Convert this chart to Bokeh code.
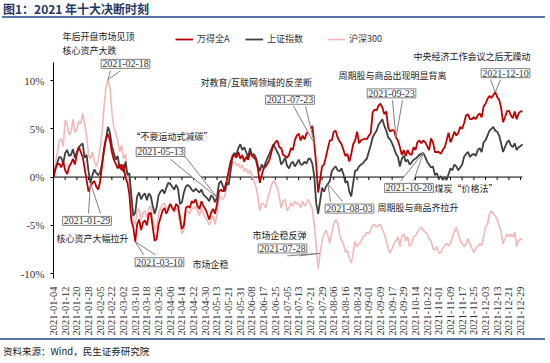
import math
import pandas as pd
from bokeh.plotting import figure
from bokeh.models import (Range1d, FixedTicker, PrintfTickFormatter, Label,
                          Legend, LegendItem, Div, ColumnDataSource)
from bokeh.layouts import column
from bokeh.embed import file_html
from bokeh.resources import INLINE

# ---------------- data ----------------
holidays = ["2021-01-01", "2021-02-11", "2021-02-12", "2021-02-15", "2021-02-16",
            "2021-02-17", "2021-04-05", "2021-05-03", "2021-05-04", "2021-05-05",
            "2021-06-14", "2021-09-20", "2021-09-21", "2021-10-01", "2021-10-04",
            "2021-10-05", "2021-10-06", "2021-10-07"]
dates = [d.strftime("%Y-%m-%d") for d in pd.bdate_range("2021-01-04", "2021-12-30")
         if d.strftime("%Y-%m-%d") not in holidays]

wind_a = [
    0.0, 0.9, 1.3, 1.4, 1.0, 1.6, 0.7, 0.3, 1.1, 1.4,
    1.9, 1.3, 2.4, 3.1, 2.6, 2.1, 0.9, -0.3, -1.5, -1.0,
    -0.6, -0.4, -1.0, -1.3, -0.4, 1.3, 3.0, 4.0, 4.5, 3.8,
    2.6, 1.8, 1.4, 0.9, 1.3, 0.7, 1.3, -0.1, -0.6, -1.8,
    -4.5, -5.2, -6.7, -4.9, -4.4, -5.5, -4.7, -4.5, -5.0, -3.8,
    -3.7, -5.2, -6.6, -6.4, -4.9, -4.2, -3.5, -3.2, -3.8, -3.3,
    -2.8, -3.2, -3.5, -2.8, -3.0, -4.2, -5.4, -5.0, -3.2, -3.0,
    -3.2, -2.5, -2.7, -2.3, -3.0, -3.3, -2.5, -3.0, -3.3, -3.8,
    -4.4, -3.7, -3.3, -3.8, -2.8, -1.5, -1.3, -1.5, -1.1, -0.4,
    0.6, 1.6, 2.1, 2.3, 2.0, 2.6, 1.9, 2.3, 1.6, 2.1,
    1.8, 2.6, 2.2, 2.0, 1.8, 0.9, -0.6, 0.2, 0.9, 1.1,
    1.4, 1.8, 2.6, 3.3, 3.6, 3.8, 3.1, 3.0, 2.3, 2.2,
    2.0, 2.3, 3.0, 2.8, 3.8, 4.3, 4.5, 3.8, 4.3, 3.9,
    4.5, 4.8, 5.0, 5.3, 3.5, 1.3, -1.6, -0.3, 1.1, 1.3,
    2.1, 3.0, 3.8, 3.8, 4.7, 4.8, 4.1, 3.7, 3.4, 2.8,
    2.2, 2.4, 1.6, 2.4, 3.4, 3.8, 4.7, 3.5, 3.8, 3.9,
    4.0, 3.9, 4.3, 4.5, 6.7, 7.0, 6.9, 7.4, 7.6, 7.2,
    6.5, 6.8, 5.1, 4.7, 4.9, 4.8, 4.1, 3.8, 3.1, 2.3,
    2.8, 2.2, 2.8, 2.4, 2.3, 3.1, 2.8, 3.6, 3.8, 3.5,
    3.8, 3.6, 3.2, 2.8, 4.0, 3.6, 2.6, 2.6, 2.6, 2.4,
    2.8, 3.1, 3.8, 4.6, 3.6, 4.1, 4.7, 4.3, 4.6, 5.2,
    5.0, 5.6, 6.4, 6.5, 6.0, 6.0, 6.2, 6.0, 6.4, 6.6,
    6.2, 7.3, 7.6, 8.1, 8.4, 8.2, 8.5, 8.8, 8.3, 8.0,
    7.2, 5.7, 6.2, 6.8, 6.9, 6.4, 6.1, 6.8, 6.0, 6.6,
    6.8, 6.8]

shanghai = [
    0.0, 0.8, 1.5, 2.1, 2.0, 1.4, 2.5, 2.8, 2.2, 2.3,
    2.9, 2.0, 2.6, 3.1, 3.3, 3.5, 2.0, 2.3, 0.6, -0.6,
    0.2, 0.8, 0.4, 0.2, 0.5, 1.5, 2.8, 4.0, 5.2, 4.6,
    3.2, 2.5, 1.8, 2.2, 0.9, 1.3, 0.5, 1.6, 0.2, 0.4,
    -1.9, -4.0, -3.7, -2.0, -1.6, -2.3, -1.9, -1.7, -2.4, -1.7,
    -2.0, -3.0, -3.8, -3.1, -1.9, -1.5, -1.3, -1.7, -1.1, -0.6,
    -0.7, -1.0, -1.3, -0.8, -1.2, -2.8, -2.6, -1.6, -1.0, -0.8,
    -1.0, -1.3, -1.5, -1.2, -1.4, -1.6, -1.3, -1.8, -2.0, -2.2,
    -2.5, -1.9, -2.1, -2.6, -2.1, -0.7, -0.4, -0.9, -1.5, -0.6,
    -0.8, 0.6, 2.2, 2.5, 2.3, 3.0, 3.4, 2.8, 3.1, 2.6,
    2.0, 3.0, 2.2, 2.4, 2.0, 1.2, 0.6, 1.3, 0.9, 1.5,
    2.0, 2.4, 2.9, 3.4, 3.0, 2.6, 2.2, 1.3, 1.6, 2.0,
    1.2, 0.9, 1.4, 1.6, 1.1, 1.4, 1.8, 1.3, 1.3, 1.6,
    1.4, 1.9, 1.9, 1.4, 0.1, -2.7, -3.8, -2.5, -1.1, -1.5,
    -1.0, -0.7, -0.4, 0.6, 0.9, 1.1, 0.7, 0.6, 0.9, 0.3,
    -0.6, -0.4, -1.5, -2.0, -0.6, 0.7, 0.7, 1.1, 1.3, 1.4,
    1.7, 1.9, 2.6, 3.3, 4.1, 4.5, 4.8, 5.4, 5.7, 6.0,
    5.3, 4.8, 4.1, 3.9, 3.5, 3.0, 2.4, 2.1, 1.1, 1.9,
    2.2, 1.6, 1.8, 1.3, 1.5, 1.8, 1.9, 2.1, 2.3, 2.4,
    2.5, 2.1, 1.6, 1.3, 1.0, 1.1, 0.2, 0.4, -0.2, 0.1,
    -0.3, 0.0, -0.3, 0.3, 0.9, 0.7, 1.3, 1.1, 0.7, 1.0,
    1.3, 2.1, 2.4, 2.6, 2.1, 2.3, 2.4, 2.2, 2.8, 3.0,
    2.6, 3.6, 3.8, 4.3, 4.8, 5.0, 5.2, 4.8, 4.7, 4.3,
    3.5, 2.6, 3.1, 3.6, 3.8, 3.3, 3.1, 3.5, 2.8, 3.1,
    3.2, 3.4]

hs300 = [
    0.0, 1.5, 2.5, 3.8, 4.0, 3.2, 5.9, 5.5, 4.4, 4.6,
    6.0, 4.6, 5.0, 5.8, 5.5, 6.6, 5.5, 4.3, 2.2, 1.9,
    2.6, 1.6, 1.1, 1.8, 3.0, 4.7, 7.4, 9.3, 10.1, 9.3,
    6.7, 5.2, 4.5, 3.8, 2.6, 3.3, 1.9, 2.4, 0.2, -0.6,
    -3.2, -4.5, -4.9, -3.5, -3.3, -4.4, -3.7, -3.5, -4.2, -3.2,
    -3.0, -4.4, -5.5, -5.2, -3.8, -3.3, -2.8, -2.7, -3.3, -3.0,
    -2.7, -3.2, -3.7, -3.2, -3.5, -4.9, -5.9, -5.5, -3.8, -3.5,
    -3.8, -3.2, -3.3, -3.0, -3.5, -4.0, -3.2, -3.8, -4.2, -4.5,
    -5.0, -4.4, -4.0, -4.9, -3.8, -2.1, -2.0, -2.3, -2.0, -1.1,
    -0.1, 0.9, 1.4, 1.6, 1.2, 1.4, 0.9, 1.3, 0.6, 0.9,
    0.4, 0.7, 0.1, -0.4, -1.0, -2.0, -3.5, -2.7, -2.8, -3.2,
    -2.3, -1.6, -0.8, -0.4, -0.6, -1.1, -2.0, -3.2, -2.5, -2.3,
    -3.5, -3.2, -2.7, -3.0, -2.5, -2.8, -2.7, -3.2, -2.5, -3.0,
    -2.7, -2.3, -2.8, -3.3, -4.9, -7.2, -9.5, -7.9, -6.6, -5.9,
    -5.5, -6.1, -6.9, -5.7, -4.9, -4.4, -4.8, -5.9, -6.6, -6.9,
    -7.8, -7.6, -8.4, -8.9, -7.9, -6.7, -7.2, -6.9, -6.7, -6.2,
    -6.1, -5.7, -5.9, -5.5, -5.0, -4.9, -5.2, -5.0, -4.9, -5.4,
    -5.9, -6.6, -7.4, -7.9, -7.4, -6.9, -6.6, -6.2, -7.2, -6.1,
    -5.9, -6.6, -6.2, -7.2, -6.9, -6.2, -6.1, -5.7, -5.4, -5.2,
    -5.5, -5.7, -5.9, -6.4, -6.6, -7.4, -7.6, -7.2, -7.9, -7.8,
    -7.4, -7.1, -6.9, -7.1, -6.9, -6.2, -5.7, -5.2, -5.9, -6.6,
    -6.9, -7.2, -6.9, -6.4, -6.9, -7.4, -7.8, -7.4, -7.2, -6.9,
    -7.1, -6.2, -5.2, -4.9, -3.8, -3.5, -3.8, -4.0, -4.4, -5.0,
    -5.7, -6.9, -6.4, -5.9, -6.2, -5.9, -6.2, -5.7, -7.2, -6.6,
    -6.4, -6.5]

series_names = ["万得全A", "上证指数", "沪深300"]
y_ticks = [-10, -5, 0, 5, 10]
tick_idx = list(range(0, len(dates), 6))

idx = list(range(len(dates)))
src = ColumnDataSource(dict(x=idx, wind_a=wind_a, shanghai=shanghai, hs300=hs300, date=dates))

# ---------------- geometry helpers (page px -> data) ----------------
X0_PX, PX_PER_DAY = 53.0, 469.0 / 241.0
Y0_PX, PX_PER_PCT = 179.0, 9.8
FIG_TOP = 20          # page y where the figure starts
FRAME_BOTTOM = 282    # page y of the frame bottom
FRAME_W = 479         # frame wide enough for the right-most notes


def dx(px):
    return (px - X0_PX) / PX_PER_DAY


def dy(py):
    return (Y0_PX - py) / PX_PER_PCT


RED, GRAY, PINK = "#C00000", "#404040", "#F2B8B8"
CJK = "Noto Sans CJK SC"
SERIF = "Liberation Serif"

p = figure(width=550, height=318, x_range=Range1d(0, FRAME_W / PX_PER_DAY),
           y_range=Range1d(dy(FRAME_BOTTOM), dy(FIG_TOP)),
           output_backend="svg", toolbar_location=None, title=None,
           min_border_left=53, min_border_right=550 - 53 - FRAME_W,
           min_border_top=0, min_border_bottom=56)
p.grid.visible = False
p.outline_line_color = None
p.background_fill_color = "white"
p.border_fill_color = "white"

# y axis
ya = p.yaxis[0]
ya.ticker = FixedTicker(ticks=y_ticks)
ya.formatter = PrintfTickFormatter(format="%d%%")
ya.bounds = (dy(282), dy(63))
ya.axis_line_color = "black"
ya.major_tick_line_color = "black"
ya.major_tick_out = 3
ya.major_tick_in = 0
ya.minor_tick_line_color = None
ya.major_label_standoff = 6
ya.major_label_text_font = SERIF
ya.major_label_text_font_size = "11px"
ya.major_label_text_color = "#333333"

# x axis (labels at the bottom)
xa = p.xaxis[0]
xa.ticker = FixedTicker(ticks=tick_idx)
xa.major_label_overrides = {i: dates[i] for i in tick_idx}
xa.major_label_orientation = math.pi / 2
xa.axis_line_color = None
xa.major_tick_line_color = None
xa.minor_tick_line_color = None
xa.major_label_standoff = 2
xa.major_label_text_font = SERIF
xa.major_label_text_font_size = "10.5px"
xa.major_label_text_color = "#333333"

# zero line across the data extent, with small downward ticks
p.segment(x0=[idx[0]], y0=[0], x1=[idx[-1]], y1=[0], line_color="black", line_width=1)
p.segment(x0=tick_idx, y0=[0] * len(tick_idx), x1=tick_idx,
          y1=[-3 / PX_PER_PCT] * len(tick_idx), line_color="black", line_width=1)

r_pink = p.line("x", "hs300", source=src, line_color=PINK, line_width=1.6)
r_gray = p.line("x", "shanghai", source=src, line_color=GRAY, line_width=1.8)
r_red = p.line("x", "wind_a", source=src, line_color=RED, line_width=1.8)

# legends (three single-entry legends placed like the reference)
for name, rend, left_px in zip(series_names, [r_red, r_gray, r_pink], [175, 245, 327]):
    lg = Legend(items=[LegendItem(label=name, renderers=[rend])],
                location=(left_px - 53, FRAME_BOTTOM - 43 - 6), orientation="horizontal",
                glyph_width=18, glyph_height=12, label_height=12, label_standoff=4,
                padding=0, margin=0, spacing=0, border_line_color=None,
                background_fill_alpha=0, label_text_font=CJK,
                label_text_font_size="9px", label_text_color="#333333")
    p.add_layout(lg)

# plain text notes: (text, left px, centre y px)
notes = [
    ("年后开盘市场见顶", 62, 36.5),
    ("核心资产大跌", 62, 50),
    ("中央经济工作会议之后无躁动", 413, 57),
    ("对教育/互联网领域的反垄断", 200, 83),
    ("周期股与商品出现明显背离", 338, 76),
    ("“不要运动式减碳”", 131, 138),
    ("核心资产大幅拉升", 56, 241),
    ("市场企稳", 192, 268),
    ("市场企稳反弹", 252, 238),
    ("周期股与商品齐拉升", 377, 210),
    ("煤炭“价格法”", 434, 190.5),
]

# callouts: (date, series for apex, box centre px, wedge base points px)
callouts = [
    ("2021-02-18", hs300, (125, 64), (110, 71), (120, 71)),
    ("2021-01-29", shanghai, (86.5, 223.5), (88, 216), (100, 216)),
    ("2021-03-10", wind_a, (159, 265.5), (143, 258), (155, 258)),
    ("2021-05-13", shanghai, (160, 153.5), (170, 161), (183, 156)),
    ("2021-07-23", wind_a, (289.5, 100.5), (293, 107), (305, 107)),
    ("2021-07-28", hs300, (282, 251.5), (287, 259), (299, 259)),
    ("2021-08-03", shanghai, (349, 211), (330, 204), (342, 204)),
    ("2021-09-23", wind_a, (391, 94), (392, 101), (402, 101)),
    ("2021-10-20", shanghai, (408.5, 190), (400, 183), (413, 183)),
    ("2021-12-10", wind_a, (505, 73.5), (490, 80), (500, 80)),
]

wx, wy, lx, ly = [], [], [], []
for d, ser, c, b1, b2 in callouts:
    i = dates.index(d)
    ax, ay = i, ser[i]
    wx.append([dx(b1[0]), dx(b2[0]), ax])
    wy.append([dy(b1[1]), dy(b2[1]), ay])
    lx += [[dx(b1[0]), ax], [dx(b2[0]), ax]]
    ly += [[dy(b1[1]), ay], [dy(b2[1]), ay]]
p.patches(wx, wy, fill_color="white", line_color=None)
p.multi_line(lx, ly, line_color="#7F7F7F", line_width=1)

for d, ser, c, b1, b2 in callouts:
    p.add_layout(Label(x=dx(c[0]), y=dy(c[1]), text=d, text_align="center",
                       text_baseline="middle", text_font=SERIF, text_font_size="10px",
                       text_color="#333333", background_fill_color="white",
                       border_line_color="#7F7F7F", border_line_width=1, padding=1))

for t, x, y in notes:
    p.add_layout(Label(x=dx(x), y=dy(y), text=t, text_align="left", text_baseline="middle",
                       text_font=CJK, text_font_size="9px", text_color="#1A1A1A"))

title_div = Div(text=("<div style=\"position:relative;width:550px;height:20px;\">"
                      "<div style=\"position:absolute;left:3px;top:3px;white-space:nowrap;"
                      "font-family:'Noto Sans CJK SC';font-weight:bold;font-size:12px;"
                      "line-height:12px;color:#1F3864;\">图1：2021 年十大决断时刻</div>"
                      "<div style=\"position:absolute;left:2px;top:16px;width:543px;height:2px;"
                      "background:#5877A8;\"></div></div>"),
                width=550, height=FIG_TOP, margin=0)
foot_div = Div(text=("<div style=\"position:relative;width:550px;height:25px;\">"
                     "<div style=\"position:absolute;left:0px;top:0px;width:545px;height:2px;"
                     "background:#5877A8;\"></div>"
                     "<div style=\"position:absolute;left:3px;top:8px;white-space:nowrap;"
                     "font-family:'Noto Sans CJK SC';font-size:9.5px;line-height:11px;"
                     "color:#222222;\">资料来源：Wind，民生证券研究院</div></div>"),
               width=550, height=25, margin=0)

layout = column(title_div, p, foot_div, spacing=0)
open("out.html", "w").write(file_html(layout, INLINE))
